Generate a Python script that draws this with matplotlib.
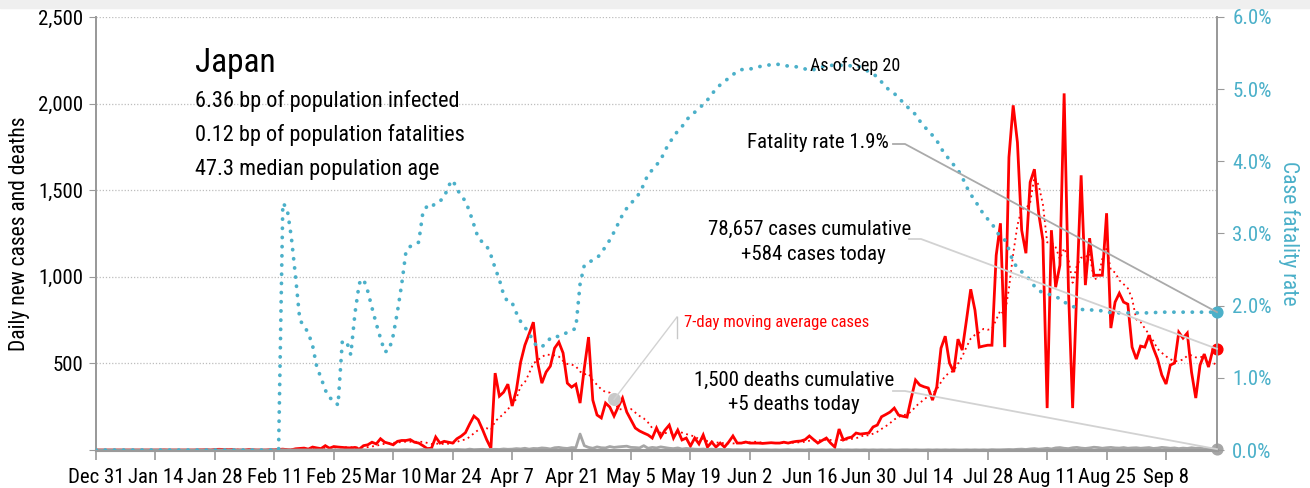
import numpy as np
import pandas as pd
import matplotlib
matplotlib.use("Agg")
import matplotlib.pyplot as plt
from matplotlib import font_manager
from matplotlib.lines import Line2D
from matplotlib.patches import Rectangle

names = {f.name for f in font_manager.fontManager.ttflist}
narrow = 'DejaVu Sans'
for cand in ['Roboto Condensed', 'Archivo Narrow', 'PT Sans Narrow',
             'Barlow Semi Condensed', 'Fira Sans Condensed']:
    if cand in names:
        narrow = cand
        break
plt.rcParams['font.family'] = [narrow, 'DejaVu Sans']

# daily data, Dec 31 2019 .. Sep 20 2020
dates = pd.date_range('2019-12-31', '2020-09-20', freq='D')

cases_dec = [0]
cases_jan = [0]*15 + [1] + [0]*7 + [1, 1, 2, 0, 3, 4, 3, 2]
cases_feb = [3, 0, 0, 0, 3, 1, 0, 0, 0, 2, 1, 3, 5, 2, 1, 7, 9, 11, 5,
             17, 12, 8, 25, 10, 20, 17, 15, 13, 12]
cases_mar = [15, 5, 25, 30, 45, 35, 65, 45, 38, 30, 50, 55, 55, 60, 45, 40,
             25, 8, 10, 75, 40, 50, 45, 40, 65, 80, 100, 150, 196, 175, 120]
cases_apr = [60, 10, 444, 311, 334, 380, 254, 346, 507, 605, 670, 738, 507,
             386, 450, 484, 588, 623, 560, 386, 363, 380, 271, 473, 652, 288,
             202, 185, 271, 248]
cases_may = [196, 250, 300, 219, 173, 127, 110, 98, 87, 69, 127, 75, 115, 144,
             69, 115, 58, 69, 23, 69, 35, 87, 17, 46, 17, 40, 17, 46, 81, 40, 40]
cases_jun = [46, 40, 40, 40, 38, 40, 42, 40, 40, 45, 40, 46, 50, 52, 60, 81,
             60, 40, 55, 69, 40, 17, 121, 58, 69, 75, 98, 92, 95, 98]
cases_jul = [133, 144, 192, 205, 219, 242, 202, 195, 190, 300, 404, 375, 365,
             358, 288, 363, 588, 657, 502, 450, 640, 577, 750, 928, 807, 594,
             600, 605, 605, 1124, 1309]
cases_aug = [594, 1690, 1990, 1776, 1269, 1136, 1546, 1621, 1367, 1211, 242,
             1269, 940, 1067, 2059, 940, 242, 940, 1586, 952, 1223, 1009, 1009,
             1009, 1367, 704, 854, 905, 854, 842, 594]
cases_sep = [525, 600, 594, 663, 588, 525, 433, 381, 490, 502, 680, 646, 675,
             450, 300, 490, 554, 479, 577, 584]

deaths_dec = [0]
deaths_jan = [0]*31
deaths_feb = [0]*12 + [1] + [0]*16
deaths_mar = [0, 0, 1, 0, 1, 0, 1, 0, 2, 1, 0, 1, 2, 1, 0, 1, 3, 1, 2, 0, 1,
              1, 2, 1, 3, 2, 1, 5, 2, 3, 4]
deaths_apr = [2, 3, 4, 3, 6, 4, 5, 8, 6, 10, 5, 9, 8, 12, 10, 6, 13, 15, 11, 9,
              14, 13, 92, 25, 15, 10, 18, 13, 12, 20]
deaths_may = [15, 18, 20, 22, 15, 14, 12, 25, 10, 15, 12, 18, 14, 10, 8, 12, 6,
              9, 7, 5, 4, 6, 3, 5, 2, 4, 2, 3, 1, 2, 1]
deaths_jun = [1, 1, 2, 0, 1, 1, 0, 1, 0, 1, 2, 0, 1, 1, 0, 2, 1, 0, 1, 0, 1, 1,
              2, 0, 1, 0, 1, 0, 1, 0]
deaths_jul = [1, 0, 1, 0, 1, 0, 0, 1, 1, 0, 1, 0, 0, 1, 0, 1, 0, 1, 0, 1, 0, 0,
              1, 0, 1, 0, 1, 0, 2, 1, 1]
deaths_aug = [2, 3, 2, 4, 5, 3, 6, 8, 5, 7, 10, 6, 12, 14, 10, 8, 13, 15, 11, 9,
              12, 16, 14, 10, 13, 15, 12, 11, 14, 10, 12]
deaths_sep = [13, 10, 12, 14, 9, 11, 15, 13, 10, 12, 8, 11, 9, 13, 10, 12, 7, 9,
              6, 5]

# case fatality rate, percent
rate_dec = [0]
rate_jan = [0]*31
rate_feb = [0]*12 + [3.42, 3.35, 2.95, 2.4, 1.8, 1.72, 1.62, 1.45, 1.15, 1.0,
                     0.83, 0.72, 0.70, 0.62, 1.50, 1.51, 1.32]
rate_mar = [1.90, 2.31, 2.37, 2.20, 1.97, 1.75, 1.55, 1.36, 1.38, 1.59, 1.92,
            2.30, 2.75, 2.82, 2.84, 2.88, 3.30, 3.38, 3.36, 3.43, 3.45, 3.50,
            3.66, 3.74, 3.62, 3.52, 3.45, 3.30, 3.12, 2.94, 2.88]
rate_apr = [2.83, 2.70, 2.52, 2.36, 2.15, 2.05, 2.04, 1.90, 1.78, 1.70, 1.62,
            1.50, 1.43, 1.43, 1.48, 1.55, 1.58, 1.57, 1.60, 1.63, 1.65, 1.69,
            2.30, 2.56, 2.60, 2.63, 2.66, 2.73, 2.82, 2.91]
rate_may = [3.02, 3.14, 3.26, 3.35, 3.42, 3.48, 3.56, 3.68, 3.82, 3.88, 3.95,
            4.02, 4.15, 4.25, 4.34, 4.42, 4.48, 4.57, 4.63, 4.68, 4.73, 4.79,
            4.85, 4.93, 5.00, 5.06, 5.11, 5.15, 5.20, 5.25, 5.27]
rate_jun = [5.28, 5.28, 5.29, 5.31, 5.32, 5.33, 5.34, 5.35, 5.34, 5.33, 5.32,
            5.31, 5.31, 5.30, 5.28, 5.26, 5.27, 5.29, 5.31, 5.32, 5.33, 5.33,
            5.33, 5.33, 5.33, 5.32, 5.32, 5.31, 5.28, 5.24]
rate_jul = [5.21, 5.17, 5.10, 5.03, 4.98, 4.94, 4.88, 4.82, 4.76, 4.70, 4.65,
            4.56, 4.49, 4.42, 4.36, 4.29, 4.18, 4.10, 4.02, 3.95, 3.88, 3.78,
            3.65, 3.54, 3.46, 3.36, 3.27, 3.20, 3.14, 3.03, 2.96]
rate_aug = [2.91, 2.78, 2.60, 2.53, 2.47, 2.42, 2.35, 2.27, 2.21, 2.18, 2.16,
            2.15, 2.12, 2.10, 2.05, 2.02, 1.99, 1.97, 1.95, 1.94, 1.94, 1.94,
            1.93, 1.93, 1.92, 1.90, 1.90, 1.90, 1.90, 1.90, 1.90]
rate_sep = [1.90]*5 + [1.91]*15

cases = np.array(cases_dec + cases_jan + cases_feb + cases_mar + cases_apr +
                 cases_may + cases_jun + cases_jul + cases_aug + cases_sep, float)
deaths = np.array(deaths_dec + deaths_jan + deaths_feb + deaths_mar + deaths_apr +
                  deaths_may + deaths_jun + deaths_jul + deaths_aug + deaths_sep, float)
rate = np.array(rate_dec + rate_jan + rate_feb + rate_mar + rate_apr + rate_may +
                rate_jun + rate_jul + rate_aug + rate_sep, float)
cases_ma = pd.Series(cases).rolling(7, min_periods=1).mean().values
ma_label_day = 122

left_ticks = [0, 500, 1000, 1500, 2000, 2500]
right_ticks = [0, 1, 2, 3, 4, 5, 6]
tick_days = list(range(0, len(dates), 14))

RED = '#ff0000'
TEAL = '#4bb0c9'
GREY = '#a6a6a6'
AXGREY = '#9a9a9a'

W, H = 1310, 488
fig = plt.figure(figsize=(W/100, H/100), dpi=100)
fig.add_artist(Rectangle((0, 1 - 8/H), 1, 8/H, transform=fig.transFigure,
                         color='#efefef', zorder=0))
ax = fig.add_axes([96/W, 1 - 450/H, (1217 - 96)/W, (450 - 17)/H])
ax2 = ax.twinx()

x = np.arange(len(dates))
ax.plot(x, cases, color=RED, lw=2, zorder=4, solid_joinstyle='miter')
ax.plot(x, cases_ma, color=RED, lw=1.3, ls=(0, (1, 2)), zorder=4)
ax.plot(x, deaths, color=GREY, lw=2, zorder=5)
ax2.plot(x, rate, color=TEAL, lw=2.7, ls=(0, (0.05, 2.4)),
         dash_capstyle='round', zorder=3)

ax.set_xlim(0, len(dates) - 1)
ax.set_ylim(0, 2500)
ax2.set_ylim(0, 6)

ax.set_yticks(left_ticks)
ax.set_yticklabels(['' if v == 0 else f'{v:,}' for v in left_ticks], fontsize=15)
ax2.set_yticks(right_ticks)
ax2.set_yticklabels([f'{v:.1f}%' for v in right_ticks], fontsize=15, color=TEAL)
ax.set_xticks(tick_days)
ax.set_xticklabels([f'{dates[i]:%b} {dates[i].day}' for i in tick_days], fontsize=15)

for a in (ax, ax2):
    a.spines['top'].set_visible(False)
    for s in ('left', 'right', 'bottom'):
        a.spines[s].set_color(AXGREY)
    a.spines['left'].set_linewidth(1.3)
    a.spines['right'].set_linewidth(1.3)
    a.spines['bottom'].set_linewidth(2.2)
ax.tick_params(axis='y', length=5, color=AXGREY, pad=4)
ax.tick_params(axis='x', length=7, width=1.2, color=AXGREY, pad=6)
ax2.tick_params(axis='y', length=5, color=AXGREY, pad=6)
ax.yaxis.grid(True, color='#bdbdbd', ls=(0, (1, 1.5)), lw=0.9)
ax.set_axisbelow(True)

ax.set_ylabel('Daily new cases and deaths', fontsize=15.5, labelpad=6)
ax2.set_ylabel('Case fatality rate', fontsize=15.5, color=TEAL, rotation=270,
               labelpad=20)

# end-of-series markers
last = len(dates) - 1
ax2.scatter([last], [rate[-1]], s=60, color=TEAL, zorder=10, clip_on=False)
ax.scatter([last], [cases[-1]], s=60, color=RED, zorder=10, clip_on=False)
ax.scatter([last], [deaths[-1]], s=60, color=GREY, zorder=10, clip_on=False)
ax.scatter([ma_label_day], [cases_ma[ma_label_day]], s=70, color='#c8c8c8',
           zorder=10)


def fxy(px, py):
    return px / W, 1 - py / H


def txt(px, py, s, **kw):
    fx, fy = fxy(px, py)
    fig.text(fx, fy, s, va='center', **kw)


txt(195, 63, 'Japan', fontsize=24, color='black')
txt(195, 101, '6.36 bp of population infected', fontsize=16)
txt(195, 135, '0.12 bp of population fatalities', fontsize=16)
txt(195, 170, '47.3 median population age', fontsize=16)
txt(810, 66, 'As of Sep 20', fontsize=13)
txt(889, 143, 'Fatality rate 1.9%', fontsize=15, ha='right')
txt(810, 229, '78,657 cases cumulative', fontsize=15, ha='center')
txt(813, 254, '+584 cases today', fontsize=15, ha='center')
txt(794, 380, '1,500 deaths cumulative', fontsize=15, ha='center')
txt(794, 405, '+5 deaths today', fontsize=15, ha='center')
txt(684, 323, '7-day moving average cases', fontsize=12, color=RED)

inv = fig.transFigure.inverted()


def leader(points_px, target, axis, color):
    xs, ys = [], []
    for px, py in points_px:
        fx, fy = fxy(px, py)
        xs.append(fx)
        ys.append(fy)
    tx, ty = inv.transform(axis.transData.transform(target))
    xs.append(tx)
    ys.append(ty)
    fig.add_artist(Line2D(xs, ys, transform=fig.transFigure, color=color,
                          lw=1.3, zorder=2))


leader([(893, 144), (905, 144)], (last, rate[-1]), ax2, '#aaaaaa')
leader([(909, 239), (921, 239)], (last, cases[-1]), ax, '#d2d2d2')
leader([(893, 391), (905, 391)], (last, deaths[-1]), ax, '#d2d2d2')
# moving-average label leader
mx, my = inv.transform(ax.transData.transform((ma_label_day, cases_ma[ma_label_day])))
tx, ty = fxy(677, 317)
fig.add_artist(Line2D([mx, tx], [my, ty], transform=fig.transFigure,
                      color='#d2d2d2', lw=1.0, zorder=2))
fig.add_artist(Line2D([tx, tx], [ty, fxy(677, 338)[1]], transform=fig.transFigure,
                      color='#c8c8c8', lw=1.0, zorder=2))

fig.savefig('out.png', dpi=100)
